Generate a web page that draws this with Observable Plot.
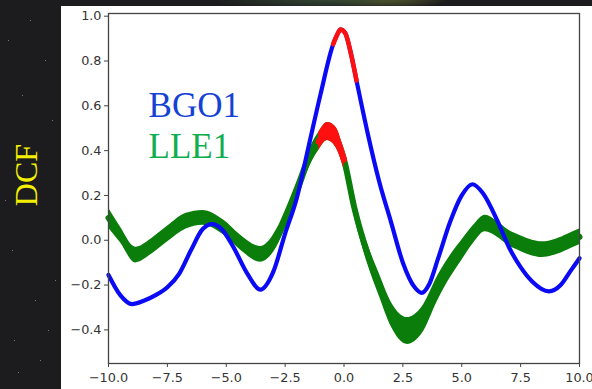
<!DOCTYPE html>
<html><head><meta charset="utf-8">
<script src="https://cdn.jsdelivr.net/npm/d3@7"></script>
<script src="https://cdn.jsdelivr.net/npm/@observablehq/plot@0.6"></script>
<style>
html,body{margin:0;padding:0;}
body{width:592px;height:389px;overflow:hidden;position:relative;
  background:
    radial-gradient(ellipse 120px 10px at 330px 0px, rgba(60,90,60,0.7), rgba(0,0,0,0)),
    radial-gradient(ellipse 60px 8px at 390px 0px, rgba(120,110,40,0.6), rgba(0,0,0,0)),
    #1c1b1d;}
#panel{position:absolute;left:61px;top:6px;width:531px;height:383px;background:#fff;}
#ylab{position:absolute;left:26px;top:175px;transform:translate(-50%,-50%) rotate(-90deg);color:#f2f000;font-family:"Liberation Serif",serif;font-size:32px;white-space:nowrap;line-height:1;}
#chart{position:absolute;left:0;top:0;}
#chart g[aria-label$="tick label"], #chart g[aria-label$="tick label"] text{font-size:12.8px !important;font-family:"DejaVu Sans" !important;}
.star{position:absolute;width:1px;height:1px;background:rgba(200,170,190,0.6);}
</style></head><body>
<div id="panel"></div>
<div id="ylab">DCF</div>
<div id="chart"></div>
<script>
// BGO1 DCF curve
const bgoX   = [-10, -9.5, -9.0, -8.5, -8.0, -7.5, -7.0, -6.5, -6.0, -5.6, -5.2, -4.7, -4.1, -3.55, -3.0, -2.5, -2.0, -1.5, -1.0, -0.46, -0.3, -0.15, 0.05, 0.3, 0.53, 1.0, 1.5, 2.0, 2.5, 3.0, 3.3, 3.6, 4.0, 4.5, 5.0, 5.45, 5.9, 6.5, 7.0, 7.5, 8.0, 8.7, 9.2, 9.6, 10];
const bgoDCF = [-0.155, -0.245, -0.285, -0.27, -0.245, -0.21, -0.15, -0.045, 0.05, 0.072, 0.05, -0.03, -0.15, -0.22, -0.14, 0.03, 0.19, 0.42, 0.65, 0.875, 0.915, 0.94, 0.925, 0.83, 0.713, 0.48, 0.26, 0.08, -0.1, -0.21, -0.235, -0.2, -0.08, 0.08, 0.2, 0.25, 0.21, 0.09, -0.03, -0.12, -0.185, -0.228, -0.2, -0.14, -0.08];
const bgoPeak = [-0.46, 0.53];

// LLE1 DCF curve (centre and half-spread of the band)
const lleX      = [-10, -9.5, -8.85, -8.2, -7.5, -6.7, -6.0, -5.1, -4.4, -3.55, -2.85, -2.5, -2.0, -1.5, -1.08, -0.7, -0.35, 0.0, 0.45, 1.0, 1.5, 2.0, 2.7, 3.3, 4.0, 4.5, 5.0, 5.5, 6.0, 6.5, 7.0, 7.5, 8.0, 8.4, 9.0, 9.5, 10];
const lleDCF    = [0.1, 0.025, -0.066, -0.03, 0.027, 0.085, 0.1, 0.056, -0.01, -0.063, 0.01, 0.09, 0.22, 0.36, 0.44, 0.485, 0.46, 0.36, 0.14, -0.06, -0.2, -0.33, -0.405, -0.36, -0.21, -0.12, -0.045, 0.027, 0.075, 0.05, 0.01, -0.015, -0.035, -0.042, -0.03, -0.008, 0.015];
const lleSpread = [0.045, 0.035, 0.035, 0.035, 0.035, 0.035, 0.033, 0.033, 0.033, 0.035, 0.04, 0.04, 0.04, 0.04, 0.04, 0.04, 0.045, 0.04, 0.04, 0.045, 0.05, 0.055, 0.06, 0.06, 0.055, 0.05, 0.045, 0.04, 0.037, 0.035, 0.035, 0.035, 0.035, 0.035, 0.035, 0.035, 0.035];
const llePeak = [-1.08, 0.0];

const xTicks = [-10, -7.5, -5, -2.5, 0, 2.5, 5, 7.5, 10];
const yTicks = [-0.4, -0.2, 0, 0.2, 0.4, 0.6, 0.8, 1.0];
const labels = ["BGO1", "LLE1"];

const bgo = bgoX.map((x, i) => ({x, y: bgoDCF[i]}));
const lle = lleX.map((x, i) => ({x, y: lleDCF[i], lo: lleDCF[i] - lleSpread[i], hi: lleDCF[i] + lleSpread[i]}));
const bgoRed = bgo.filter(d => d.x >= bgoPeak[0] && d.x <= bgoPeak[1]);
const lleRed = lle.filter(d => d.x >= llePeak[0] && d.x <= llePeak[1]);

const fmt = d => d.toFixed(1).replace("-", "\u2212");
const curve = "monotone-x";

const chart = Plot.plot({
  width: 592, height: 389,
  marginLeft: 108, marginRight: 13, marginTop: 13, marginBottom: 26,
  style: {background: "transparent", fontFamily: "DejaVu Sans", color: "#333"},
  x: {domain: [-10, 10], label: null},
  y: {domain: [-0.55, 1.012], label: null},
  marks: [
    Plot.areaY(lle, {x: "x", y1: "lo", y2: "hi", fill: "#0a7d0a", curve}),
    Plot.line(lle, {x: "x", y: "y", stroke: "#0a7d0a", strokeWidth: 6, curve}),
    Plot.areaY(lleRed, {x: "x", y1: "lo", y2: "hi", fill: "#ff1010", curve}),
    Plot.line(lleRed, {x: "x", y: "y", stroke: "#ff1010", strokeWidth: 6, curve}),
    Plot.line(bgo, {x: "x", y: "y", stroke: "#0a0af5", strokeWidth: 4.2, curve}),
    Plot.line(bgoRed, {x: "x", y: "y", stroke: "#ff1010", strokeWidth: 4.6, curve}),
    Plot.text([labels[0]], {x: -8.3, y: 0.552, text: d => d, textAnchor: "start", lineAnchor: "bottom", fill: "#1442d4", fontSize: 35, fontFamily: "Liberation Serif"}),
    Plot.text([labels[1]], {x: -8.3, y: 0.368, text: d => d, textAnchor: "start", lineAnchor: "bottom", fill: "#0fae4f", fontSize: 35, fontFamily: "Liberation Serif"}),
    Plot.frame({stroke: "#444", strokeWidth: 1.3}),
    Plot.axisX({ticks: xTicks, tickFormat: fmt, tickSize: 4, tickPadding: 5, stroke: "#444", fill: "#333", fontSize: 12.8, label: null}),
    Plot.axisY({ticks: yTicks, tickFormat: fmt, tickSize: 4, tickPadding: 3, stroke: "#444", fill: "#333", fontSize: 12.8, label: null})
  ]
});
document.getElementById("chart").appendChild(chart);

// faint stars on the dark border
const starPos = [[8,40],[22,95],[35,300],[12,250],[48,330],[40,360],[18,372],[52,120],[5,200],[30,20],[45,60],[14,340],[55,280]];
for (const [sx, sy] of starPos) {
  const s = document.createElement("div");
  s.className = "star"; s.style.left = sx + "px"; s.style.top = sy + "px";
  document.body.appendChild(s);
}
</script></body></html>
